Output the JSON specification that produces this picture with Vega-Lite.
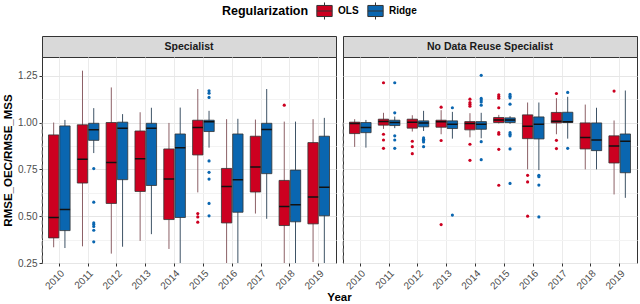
{
  "$schema": "https://vega.github.io/schema/vega-lite/v6.json",
  "padding": {"top": 1, "left": 2, "right": 1, "bottom": 1},
  "datasets": {
    "boxes": [
      {"panel": "Specialist", "year": 2010, "reg": "OLS", "lo": 0.334, "q1": 0.384, "med": 0.493, "q3": 0.934, "hi": 1.0},
      {"panel": "Specialist", "year": 2010, "reg": "Ridge", "lo": 0.33, "q1": 0.423, "med": 0.536, "q3": 0.982, "hi": 1.014},
      {"panel": "Specialist", "year": 2011, "reg": "OLS", "lo": 0.339, "q1": 0.677, "med": 0.804, "q3": 0.988, "hi": 1.277},
      {"panel": "Specialist", "year": 2011, "reg": "Ridge", "lo": 0.837, "q1": 0.905, "med": 0.962, "q3": 0.996, "hi": 1.077},
      {"panel": "Specialist", "year": 2012, "reg": "OLS", "lo": 0.3, "q1": 0.568, "med": 0.787, "q3": 1.0, "hi": 1.1875},
      {"panel": "Specialist", "year": 2012, "reg": "Ridge", "lo": 0.337, "q1": 0.695, "med": 0.97, "q3": 1.002, "hi": 1.045},
      {"panel": "Specialist", "year": 2013, "reg": "OLS", "lo": 0.368, "q1": 0.632, "med": 0.807, "q3": 0.955, "hi": 1.055},
      {"panel": "Specialist", "year": 2013, "reg": "Ridge", "lo": 0.404, "q1": 0.664, "med": 0.97, "q3": 0.996, "hi": 1.079},
      {"panel": "Specialist", "year": 2014, "reg": "OLS", "lo": 0.325, "q1": 0.482, "med": 0.698, "q3": 0.859, "hi": 0.998},
      {"panel": "Specialist", "year": 2014, "reg": "Ridge", "lo": 0.24, "q1": 0.493, "med": 0.866, "q3": 0.939, "hi": 1.08},
      {"panel": "Specialist", "year": 2015, "reg": "OLS", "lo": 0.627, "q1": 0.827, "med": 0.973, "q3": 1.0125, "hi": 1.179},
      {"panel": "Specialist", "year": 2015, "reg": "Ridge", "lo": 0.866, "q1": 0.952, "med": 1.004, "q3": 1.0125, "hi": 1.0625},
      {"panel": "Specialist", "year": 2016, "reg": "OLS", "lo": 0.22, "q1": 0.464, "med": 0.659, "q3": 0.755, "hi": 1.018},
      {"panel": "Specialist", "year": 2016, "reg": "Ridge", "lo": 0.22, "q1": 0.521, "med": 0.695, "q3": 0.939, "hi": 1.02},
      {"panel": "Specialist", "year": 2017, "reg": "OLS", "lo": 0.514, "q1": 0.629, "med": 0.7625, "q3": 0.927, "hi": 1.016},
      {"panel": "Specialist", "year": 2017, "reg": "Ridge", "lo": 0.486, "q1": 0.727, "med": 0.9625, "q3": 0.996, "hi": 1.179},
      {"panel": "Specialist", "year": 2018, "reg": "OLS", "lo": 0.22, "q1": 0.45, "med": 0.552, "q3": 0.691, "hi": 1.005},
      {"panel": "Specialist", "year": 2018, "reg": "Ridge", "lo": 0.22, "q1": 0.47, "med": 0.561, "q3": 0.746, "hi": 1.005},
      {"panel": "Specialist", "year": 2019, "reg": "OLS", "lo": 0.255, "q1": 0.459, "med": 0.602, "q3": 0.893, "hi": 1.018},
      {"panel": "Specialist", "year": 2019, "reg": "Ridge", "lo": 0.22, "q1": 0.502, "med": 0.655, "q3": 0.927, "hi": 1.025},
      {"panel": "No Data Reuse Specialist", "year": 2010, "reg": "OLS", "lo": 0.87, "q1": 0.941, "med": 0.995, "q3": 1.002, "hi": 1.018},
      {"panel": "No Data Reuse Specialist", "year": 2010, "reg": "Ridge", "lo": 0.866, "q1": 0.946, "med": 0.973, "q3": 1.0, "hi": 1.014},
      {"panel": "No Data Reuse Specialist", "year": 2011, "reg": "OLS", "lo": 0.966, "q1": 0.986, "med": 1.005, "q3": 1.018, "hi": 1.052},
      {"panel": "No Data Reuse Specialist", "year": 2011, "reg": "Ridge", "lo": 0.97, "q1": 0.984, "med": 1.0, "q3": 1.0125, "hi": 1.032},
      {"panel": "No Data Reuse Specialist", "year": 2012, "reg": "OLS", "lo": 0.952, "q1": 0.97, "med": 1.002, "q3": 1.018, "hi": 1.039},
      {"panel": "No Data Reuse Specialist", "year": 2012, "reg": "Ridge", "lo": 0.955, "q1": 0.977, "med": 0.998, "q3": 1.009, "hi": 1.0625},
      {"panel": "No Data Reuse Specialist", "year": 2013, "reg": "OLS", "lo": 0.9375, "q1": 0.975, "med": 1.004, "q3": 1.0125, "hi": 1.066},
      {"panel": "No Data Reuse Specialist", "year": 2013, "reg": "Ridge", "lo": 0.914, "q1": 0.968, "med": 0.991, "q3": 1.009, "hi": 1.057},
      {"panel": "No Data Reuse Specialist", "year": 2014, "reg": "OLS", "lo": 0.921, "q1": 0.961, "med": 0.995, "q3": 1.005, "hi": 1.05},
      {"panel": "No Data Reuse Specialist", "year": 2014, "reg": "Ridge", "lo": 0.916, "q1": 0.964, "med": 0.991, "q3": 1.005, "hi": 1.052},
      {"panel": "No Data Reuse Specialist", "year": 2015, "reg": "OLS", "lo": 0.995, "q1": 1.0, "med": 1.014, "q3": 1.027, "hi": 1.041},
      {"panel": "No Data Reuse Specialist", "year": 2015, "reg": "Ridge", "lo": 0.993, "q1": 1.0, "med": 1.014, "q3": 1.025, "hi": 1.034},
      {"panel": "No Data Reuse Specialist", "year": 2016, "reg": "OLS", "lo": 0.75, "q1": 0.914, "med": 0.98, "q3": 1.041, "hi": 1.107},
      {"panel": "No Data Reuse Specialist", "year": 2016, "reg": "Ridge", "lo": 0.746, "q1": 0.9125, "med": 0.991, "q3": 1.03, "hi": 1.107},
      {"panel": "No Data Reuse Specialist", "year": 2017, "reg": "OLS", "lo": 0.9375, "q1": 0.998, "med": 1.007, "q3": 1.054, "hi": 1.13},
      {"panel": "No Data Reuse Specialist", "year": 2017, "reg": "Ridge", "lo": 0.914, "q1": 1.0, "med": 1.004, "q3": 1.055, "hi": 1.1375},
      {"panel": "No Data Reuse Specialist", "year": 2018, "reg": "OLS", "lo": 0.75, "q1": 0.859, "med": 0.92, "q3": 0.998, "hi": 1.096},
      {"panel": "No Data Reuse Specialist", "year": 2018, "reg": "Ridge", "lo": 0.75, "q1": 0.85, "med": 0.907, "q3": 0.998, "hi": 1.079},
      {"panel": "No Data Reuse Specialist", "year": 2019, "reg": "OLS", "lo": 0.616, "q1": 0.784, "med": 0.875, "q3": 0.929, "hi": 1.011},
      {"panel": "No Data Reuse Specialist", "year": 2019, "reg": "Ridge", "lo": 0.598, "q1": 0.732, "med": 0.9, "q3": 0.939, "hi": 1.171}
    ],
    "outliers": [
      {"panel": "Specialist", "year": 2011, "reg": "Ridge", "v": 0.754},
      {"panel": "Specialist", "year": 2011, "reg": "Ridge", "v": 0.575},
      {"panel": "Specialist", "year": 2011, "reg": "Ridge", "v": 0.464},
      {"panel": "Specialist", "year": 2011, "reg": "Ridge", "v": 0.455},
      {"panel": "Specialist", "year": 2011, "reg": "Ridge", "v": 0.445},
      {"panel": "Specialist", "year": 2011, "reg": "Ridge", "v": 0.425},
      {"panel": "Specialist", "year": 2011, "reg": "Ridge", "v": 0.363},
      {"panel": "Specialist", "year": 2015, "reg": "OLS", "v": 0.514},
      {"panel": "Specialist", "year": 2015, "reg": "OLS", "v": 0.496},
      {"panel": "Specialist", "year": 2015, "reg": "OLS", "v": 0.468},
      {"panel": "Specialist", "year": 2015, "reg": "Ridge", "v": 1.17},
      {"panel": "Specialist", "year": 2015, "reg": "Ridge", "v": 1.157},
      {"panel": "Specialist", "year": 2015, "reg": "Ridge", "v": 1.134},
      {"panel": "Specialist", "year": 2015, "reg": "Ridge", "v": 0.795},
      {"panel": "Specialist", "year": 2015, "reg": "Ridge", "v": 0.734},
      {"panel": "Specialist", "year": 2015, "reg": "Ridge", "v": 0.698},
      {"panel": "Specialist", "year": 2015, "reg": "Ridge", "v": 0.568},
      {"panel": "Specialist", "year": 2015, "reg": "Ridge", "v": 0.502},
      {"panel": "Specialist", "year": 2018, "reg": "OLS", "v": 1.093},
      {"panel": "No Data Reuse Specialist", "year": 2011, "reg": "OLS", "v": 1.2125},
      {"panel": "No Data Reuse Specialist", "year": 2011, "reg": "OLS", "v": 0.9375},
      {"panel": "No Data Reuse Specialist", "year": 2011, "reg": "OLS", "v": 0.907},
      {"panel": "No Data Reuse Specialist", "year": 2011, "reg": "OLS", "v": 0.8625},
      {"panel": "No Data Reuse Specialist", "year": 2011, "reg": "Ridge", "v": 1.2125},
      {"panel": "No Data Reuse Specialist", "year": 2011, "reg": "Ridge", "v": 1.052},
      {"panel": "No Data Reuse Specialist", "year": 2011, "reg": "Ridge", "v": 0.929},
      {"panel": "No Data Reuse Specialist", "year": 2011, "reg": "Ridge", "v": 0.907},
      {"panel": "No Data Reuse Specialist", "year": 2011, "reg": "Ridge", "v": 0.8625},
      {"panel": "No Data Reuse Specialist", "year": 2012, "reg": "OLS", "v": 0.9},
      {"panel": "No Data Reuse Specialist", "year": 2012, "reg": "OLS", "v": 0.871},
      {"panel": "No Data Reuse Specialist", "year": 2012, "reg": "OLS", "v": 0.834},
      {"panel": "No Data Reuse Specialist", "year": 2012, "reg": "Ridge", "v": 0.918},
      {"panel": "No Data Reuse Specialist", "year": 2012, "reg": "Ridge", "v": 0.911},
      {"panel": "No Data Reuse Specialist", "year": 2012, "reg": "Ridge", "v": 0.904},
      {"panel": "No Data Reuse Specialist", "year": 2012, "reg": "Ridge", "v": 0.896},
      {"panel": "No Data Reuse Specialist", "year": 2012, "reg": "Ridge", "v": 0.871},
      {"panel": "No Data Reuse Specialist", "year": 2013, "reg": "OLS", "v": 1.082},
      {"panel": "No Data Reuse Specialist", "year": 2013, "reg": "OLS", "v": 0.904},
      {"panel": "No Data Reuse Specialist", "year": 2013, "reg": "OLS", "v": 0.455},
      {"panel": "No Data Reuse Specialist", "year": 2013, "reg": "Ridge", "v": 1.079},
      {"panel": "No Data Reuse Specialist", "year": 2013, "reg": "Ridge", "v": 0.506},
      {"panel": "No Data Reuse Specialist", "year": 2014, "reg": "OLS", "v": 1.125},
      {"panel": "No Data Reuse Specialist", "year": 2014, "reg": "OLS", "v": 1.107},
      {"panel": "No Data Reuse Specialist", "year": 2014, "reg": "OLS", "v": 1.098},
      {"panel": "No Data Reuse Specialist", "year": 2014, "reg": "OLS", "v": 1.0875},
      {"panel": "No Data Reuse Specialist", "year": 2014, "reg": "OLS", "v": 0.884},
      {"panel": "No Data Reuse Specialist", "year": 2014, "reg": "OLS", "v": 0.798},
      {"panel": "No Data Reuse Specialist", "year": 2014, "reg": "Ridge", "v": 1.252},
      {"panel": "No Data Reuse Specialist", "year": 2014, "reg": "Ridge", "v": 1.129},
      {"panel": "No Data Reuse Specialist", "year": 2014, "reg": "Ridge", "v": 1.12},
      {"panel": "No Data Reuse Specialist", "year": 2014, "reg": "Ridge", "v": 1.11},
      {"panel": "No Data Reuse Specialist", "year": 2014, "reg": "Ridge", "v": 1.093},
      {"panel": "No Data Reuse Specialist", "year": 2014, "reg": "Ridge", "v": 0.898},
      {"panel": "No Data Reuse Specialist", "year": 2014, "reg": "Ridge", "v": 0.802},
      {"panel": "No Data Reuse Specialist", "year": 2015, "reg": "OLS", "v": 1.148},
      {"panel": "No Data Reuse Specialist", "year": 2015, "reg": "OLS", "v": 1.139},
      {"panel": "No Data Reuse Specialist", "year": 2015, "reg": "OLS", "v": 1.13},
      {"panel": "No Data Reuse Specialist", "year": 2015, "reg": "OLS", "v": 1.079},
      {"panel": "No Data Reuse Specialist", "year": 2015, "reg": "OLS", "v": 0.946},
      {"panel": "No Data Reuse Specialist", "year": 2015, "reg": "OLS", "v": 0.9375},
      {"panel": "No Data Reuse Specialist", "year": 2015, "reg": "OLS", "v": 0.857},
      {"panel": "No Data Reuse Specialist", "year": 2015, "reg": "OLS", "v": 0.665},
      {"panel": "No Data Reuse Specialist", "year": 2015, "reg": "Ridge", "v": 1.15},
      {"panel": "No Data Reuse Specialist", "year": 2015, "reg": "Ridge", "v": 1.141},
      {"panel": "No Data Reuse Specialist", "year": 2015, "reg": "Ridge", "v": 1.132},
      {"panel": "No Data Reuse Specialist", "year": 2015, "reg": "Ridge", "v": 1.098},
      {"panel": "No Data Reuse Specialist", "year": 2015, "reg": "Ridge", "v": 0.946},
      {"panel": "No Data Reuse Specialist", "year": 2015, "reg": "Ridge", "v": 0.9375},
      {"panel": "No Data Reuse Specialist", "year": 2015, "reg": "Ridge", "v": 0.929},
      {"panel": "No Data Reuse Specialist", "year": 2015, "reg": "Ridge", "v": 0.859},
      {"panel": "No Data Reuse Specialist", "year": 2015, "reg": "Ridge", "v": 0.675},
      {"panel": "No Data Reuse Specialist", "year": 2016, "reg": "OLS", "v": 0.718},
      {"panel": "No Data Reuse Specialist", "year": 2016, "reg": "OLS", "v": 0.683},
      {"panel": "No Data Reuse Specialist", "year": 2016, "reg": "OLS", "v": 0.5},
      {"panel": "No Data Reuse Specialist", "year": 2016, "reg": "Ridge", "v": 0.718},
      {"panel": "No Data Reuse Specialist", "year": 2016, "reg": "Ridge", "v": 0.711},
      {"panel": "No Data Reuse Specialist", "year": 2016, "reg": "Ridge", "v": 0.666},
      {"panel": "No Data Reuse Specialist", "year": 2016, "reg": "Ridge", "v": 0.496},
      {"panel": "No Data Reuse Specialist", "year": 2017, "reg": "OLS", "v": 1.155},
      {"panel": "No Data Reuse Specialist", "year": 2017, "reg": "OLS", "v": 0.905},
      {"panel": "No Data Reuse Specialist", "year": 2017, "reg": "OLS", "v": 0.861},
      {"panel": "No Data Reuse Specialist", "year": 2017, "reg": "Ridge", "v": 1.161},
      {"panel": "No Data Reuse Specialist", "year": 2017, "reg": "Ridge", "v": 0.8625},
      {"panel": "No Data Reuse Specialist", "year": 2019, "reg": "OLS", "v": 1.168}
    ],
    "ref": [{"level": 1}]
  },
  "config": {
    "font": "Liberation Sans",
    "view": {"stroke": "#333333", "strokeWidth": 1},
    "axis": {
      "labelFontSize": 10,
      "labelColor": "#4d4d4d",
      "tickColor": "#333333",
      "tickSize": 3,
      "labelPadding": 2,
      "domain": false,
      "titleFontSize": 11.5,
      "titleFontWeight": "bold",
      "titleColor": "#000000"
    },
    "legend": {"layout": {"top": {"anchor": "middle"}}}
  },
  "columns": 2,
  "spacing": {"row": 0, "column": 7},
  "bounds": "flush",
  "concat": [
    {
      "data": {"values": [{"panel": "Specialist"}]},
      "width": 294,
      "height": 21,
      "view": {"fill": "#d9d9d9", "stroke": "#333333"},
      "mark": {"type": "text", "fontWeight": "bold", "fontSize": 10.5, "color": "#1a1a1a"},
      "encoding": {"text": {"field": "panel"}}
    },
    {
      "data": {"values": [{"panel": "No Data Reuse Specialist"}]},
      "width": 294,
      "height": 21,
      "view": {"fill": "#d9d9d9", "stroke": "#333333"},
      "mark": {"type": "text", "fontWeight": "bold", "fontSize": 10.5, "color": "#1a1a1a"},
      "encoding": {"text": {"field": "panel"}}
    },
    {
      "width": 294,
      "height": 206,
      "layer": [
        {
          "data": {"name": "ref"},
          "mark": {"type": "rule", "strokeDash": [4, 3], "color": "#a0a0a0", "strokeWidth": 1},
          "encoding": {"y": {"field": "level", "type": "quantitative"}}
        },
        {
          "data": {"name": "boxes"},
          "transform": [{"filter": "datum.panel === 'Specialist'"}],
          "mark": {"type": "rule", "strokeWidth": 1, "clip": true},
          "encoding": {
            "x": {"field": "year", "type": "ordinal"},
            "xOffset": {"field": "reg"},
            "y": {"field": "lo", "type": "quantitative"},
            "y2": {"field": "hi"},
            "stroke": {"condition": {"test": "datum.reg === 'OLS'", "value": "#8c6066"}, "value": "#3e5366"}
          }
        },
        {
          "data": {"name": "boxes"},
          "transform": [{"filter": "datum.panel === 'Specialist'"}],
          "mark": {"type": "bar", "stroke": "#333333", "strokeWidth": 0.8, "clip": true},
          "encoding": {
            "x": {"field": "year", "type": "ordinal"},
            "xOffset": {"field": "reg"},
            "y": {"field": "q1", "type": "quantitative"},
            "y2": {"field": "q3"},
            "fill": {
              "field": "reg",
              "scale": {"domain": ["OLS", "Ridge"], "range": ["#cc0020", "#0a66b0"]},
              "legend": {
                "title": "Regularization",
                "orient": "top",
                "direction": "horizontal",
                "titleOrient": "left",
                "titleFontSize": 12.5,
                "titleFontWeight": "bold",
                "titleColor": "#000000",
                "titlePadding": 6,
                "labelFontSize": 10,
                "labelFontWeight": "bold",
                "labelColor": "#000000",
                "symbolType": "M-0.9,-0.65H0.9V0.65H-0.9Z M-0.9,0H0.9 M0,-0.65V-1 M0,0.65V1",
                "symbolSize": 290,
                "symbolStrokeColor": "#333333",
                "symbolStrokeWidth": 1,
                "symbolOpacity": 1,
                "columnPadding": 6,
                "labelOffset": 4,
                "offset": 13
              }
            }
          }
        },
        {
          "data": {"name": "boxes"},
          "transform": [{"filter": "datum.panel === 'Specialist'"}],
          "mark": {"type": "bar", "stroke": "#111111", "strokeWidth": 1.5, "fillOpacity": 0, "clip": true},
          "encoding": {
            "x": {"field": "year", "type": "ordinal"},
            "xOffset": {"field": "reg"},
            "y": {"field": "med", "type": "quantitative"},
            "y2": {"field": "med"}
          }
        },
        {
          "data": {"name": "outliers"},
          "transform": [{"filter": "datum.panel === 'Specialist'"}],
          "mark": {"type": "point", "filled": true, "size": 10, "opacity": 1, "clip": true},
          "encoding": {
            "x": {"field": "year", "type": "ordinal"},
            "xOffset": {"field": "reg"},
            "y": {"field": "v", "type": "quantitative"},
            "fill": {"field": "reg"}
          }
        }
      ],
      "encoding": {
        "x": {
          "field": "year",
          "type": "ordinal",
          "scale": {"domain": [2010, 2011, 2012, 2013, 2014, 2015, 2016, 2017, 2018, 2019], "paddingInner": 0.25, "paddingOuter": 0.225},
          "axis": {"title": "Year", "titleX": 297, "titlePadding": 1, "labelAngle": -45, "bandPosition": 0.5, "grid": true, "gridColor": "#ebebeb", "gridWidth": 1}
        },
        "xOffset": {"field": "reg", "scale": {"domain": ["OLS", "Ridge"], "paddingInner": 0.08}},
        "y": {
          "type": "quantitative",
          "scale": {"domain": [0.25, 1.35], "nice": false, "zero": false},
          "axis": {
            "title": "RMSE_OEC/RMSE_MSS",
            "titlePadding": 4,
            "values": [0.25, 0.375, 0.5, 0.625, 0.75, 0.875, 1, 1.125, 1.25],
            "labelExpr": "datum.value % 0.25 === 0 ? format(datum.value, '.2f') : ''",
            "grid": true,
            "gridColor": {"condition": {"test": "datum.value % 0.25 === 0", "value": "#e6e6e6"}, "value": "#f3f3f3"},
            "tickColor": {"condition": {"test": "datum.value % 0.25 === 0", "value": "#333333"}, "value": "transparent"}
          }
        }
      }
    },
    {
      "width": 294,
      "height": 206,
      "layer": [
        {
          "data": {"name": "ref"},
          "mark": {"type": "rule", "strokeDash": [4, 3], "color": "#a0a0a0", "strokeWidth": 1},
          "encoding": {"y": {"field": "level", "type": "quantitative"}}
        },
        {
          "data": {"name": "boxes"},
          "transform": [{"filter": "datum.panel === 'No Data Reuse Specialist'"}],
          "mark": {"type": "rule", "strokeWidth": 1, "clip": true},
          "encoding": {
            "x": {"field": "year", "type": "ordinal"},
            "xOffset": {"field": "reg"},
            "y": {"field": "lo", "type": "quantitative"},
            "y2": {"field": "hi"},
            "stroke": {"condition": {"test": "datum.reg === 'OLS'", "value": "#8c6066"}, "value": "#3e5366"}
          }
        },
        {
          "data": {"name": "boxes"},
          "transform": [{"filter": "datum.panel === 'No Data Reuse Specialist'"}],
          "mark": {"type": "bar", "stroke": "#333333", "strokeWidth": 0.8, "clip": true},
          "encoding": {
            "x": {"field": "year", "type": "ordinal"},
            "xOffset": {"field": "reg"},
            "y": {"field": "q1", "type": "quantitative"},
            "y2": {"field": "q3"},
            "fill": {"field": "reg"}
          }
        },
        {
          "data": {"name": "boxes"},
          "transform": [{"filter": "datum.panel === 'No Data Reuse Specialist'"}],
          "mark": {"type": "bar", "stroke": "#111111", "strokeWidth": 1.5, "fillOpacity": 0, "clip": true},
          "encoding": {
            "x": {"field": "year", "type": "ordinal"},
            "xOffset": {"field": "reg"},
            "y": {"field": "med", "type": "quantitative"},
            "y2": {"field": "med"}
          }
        },
        {
          "data": {"name": "outliers"},
          "transform": [{"filter": "datum.panel === 'No Data Reuse Specialist'"}],
          "mark": {"type": "point", "filled": true, "size": 10, "opacity": 1, "clip": true},
          "encoding": {
            "x": {"field": "year", "type": "ordinal"},
            "xOffset": {"field": "reg"},
            "y": {"field": "v", "type": "quantitative"},
            "fill": {"field": "reg"}
          }
        }
      ],
      "encoding": {
        "x": {
          "field": "year",
          "type": "ordinal",
          "scale": {"domain": [2010, 2011, 2012, 2013, 2014, 2015, 2016, 2017, 2018, 2019], "paddingInner": 0.25, "paddingOuter": 0.225},
          "axis": {"title": null, "labelAngle": -45, "bandPosition": 0.5, "grid": true, "gridColor": "#ebebeb", "gridWidth": 1}
        },
        "xOffset": {"field": "reg", "scale": {"domain": ["OLS", "Ridge"], "paddingInner": 0.08}},
        "y": {
          "type": "quantitative",
          "scale": {"domain": [0.25, 1.35], "nice": false, "zero": false},
          "axis": {
            "title": null,
            "labels": false,
            "ticks": false,
            "values": [0.25, 0.375, 0.5, 0.625, 0.75, 0.875, 1, 1.125, 1.25],
            "grid": true,
            "gridColor": {"condition": {"test": "datum.value % 0.25 === 0", "value": "#e6e6e6"}, "value": "#f3f3f3"}
          }
        }
      }
    }
  ]
}
